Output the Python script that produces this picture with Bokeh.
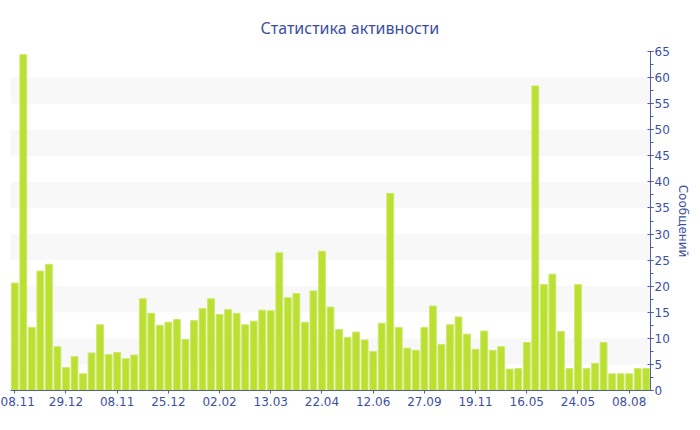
from bokeh.plotting import figure
from bokeh.models import (Range1d, LinearAxis, FixedTicker, SingleIntervalTicker,
                          Title, ColumnDataSource)
from bokeh.embed import file_html
from bokeh.resources import INLINE

# ---- data ----
messages = [20.6, 64.4, 12.1, 22.9, 24.2, 8.4, 4.4, 6.5, 3.2, 7.2,
            12.6, 6.9, 7.3, 6.1, 6.8, 17.6, 14.8, 12.5, 13.1, 13.6,
            9.8, 13.4, 15.7, 17.6, 14.6, 15.5, 14.8, 12.6, 13.3, 15.4,
            15.3, 26.4, 17.8, 18.6, 13.1, 19.1, 26.7, 16.0, 11.7, 10.2,
            11.2, 9.7, 7.5, 12.9, 37.8, 12.1, 8.1, 7.7, 12.1, 16.2,
            8.8, 12.6, 14.1, 10.8, 7.9, 11.4, 7.7, 8.4, 4.1, 4.2,
            9.2, 58.4, 20.3, 22.3, 11.3, 4.2, 20.3, 4.2, 5.2, 9.2,
            3.2, 3.2, 3.2, 4.2, 4.2]
tick_positions = [0, 6, 12, 18, 24, 30, 36, 42, 48, 54, 60, 66, 72]
tick_labels = ["08.11", "29.12", "08.11", "25.12", "02.02", "13.03", "22.04",
               "12.06", "27.09", "19.11", "16.05", "24.05", "08.08"]
title_text = "Статистика активности"
y_axis_title = "Сообщений"

FONT = "DejaVu Sans"
TITLE_FONT = "Noto Sans"
TEXT_COLOR = "#3d4f9f"
AXIS_COLOR = "#4f5fa3"

src = ColumnDataSource(dict(x=list(range(len(messages))), top=messages))

p = figure(width=700, height=430, output_backend="svg", toolbar_location=None,
           x_range=Range1d(-0.5, len(messages) - 0.5), y_range=Range1d(0, 65),
           min_border_left=10, min_border_right=50, min_border_top=51,
           min_border_bottom=40, y_axis_location=None, title=None)
p.xaxis.visible = False
p.outline_line_color = None
p.background_fill_color = "white"
p.border_fill_color = "white"

p.xgrid.visible = False
p.ygrid.grid_line_color = None
p.ygrid.ticker = SingleIntervalTicker(interval=5)
p.ygrid.band_fill_color = "#f8f8f8"
p.ygrid.band_fill_alpha = 1.0

p.vbar(x="x", top="top", width=0.8, source=src,
       fill_color="#bbe031", line_color="#cde86a", line_width=1)

# bottom axis
xa = LinearAxis(ticker=FixedTicker(ticks=tick_positions),
                major_label_overrides={t: l for t, l in zip(tick_positions, tick_labels)})
xa.axis_line_color = AXIS_COLOR
xa.major_tick_line_color = AXIS_COLOR
xa.major_tick_in = 0
xa.major_tick_out = 3
xa.minor_tick_line_color = None
xa.major_label_text_color = TEXT_COLOR
xa.major_label_text_font = FONT
xa.major_label_text_font_size = "12px"
xa.major_label_standoff = 3
p.add_layout(xa, "below")

# right axis
ya = LinearAxis(ticker=SingleIntervalTicker(interval=5, num_minor_ticks=2),
                axis_label=y_axis_title)
ya.axis_line_color = AXIS_COLOR
ya.major_tick_line_color = AXIS_COLOR
ya.minor_tick_line_color = AXIS_COLOR
ya.major_tick_in = 3
ya.major_tick_out = 3
ya.minor_tick_in = 0
ya.minor_tick_out = 3
ya.major_label_text_color = TEXT_COLOR
ya.major_label_text_font = FONT
ya.major_label_text_font_size = "12px"
ya.major_label_standoff = 1
ya.axis_label_text_color = TEXT_COLOR
ya.axis_label_text_font = FONT
ya.axis_label_text_font_size = "12px"
ya.axis_label_text_font_style = "normal"
ya.axis_label_standoff = 3
p.add_layout(ya, "right")

# title
t = Title(text=title_text, align="left", offset=250, standoff=26,
          vertical_align="bottom", text_font=TITLE_FONT, text_font_size="16px",
          text_font_style="normal", text_color=TEXT_COLOR)
p.add_layout(t, "above")

open("out.html", "w").write(file_html(p, INLINE))
